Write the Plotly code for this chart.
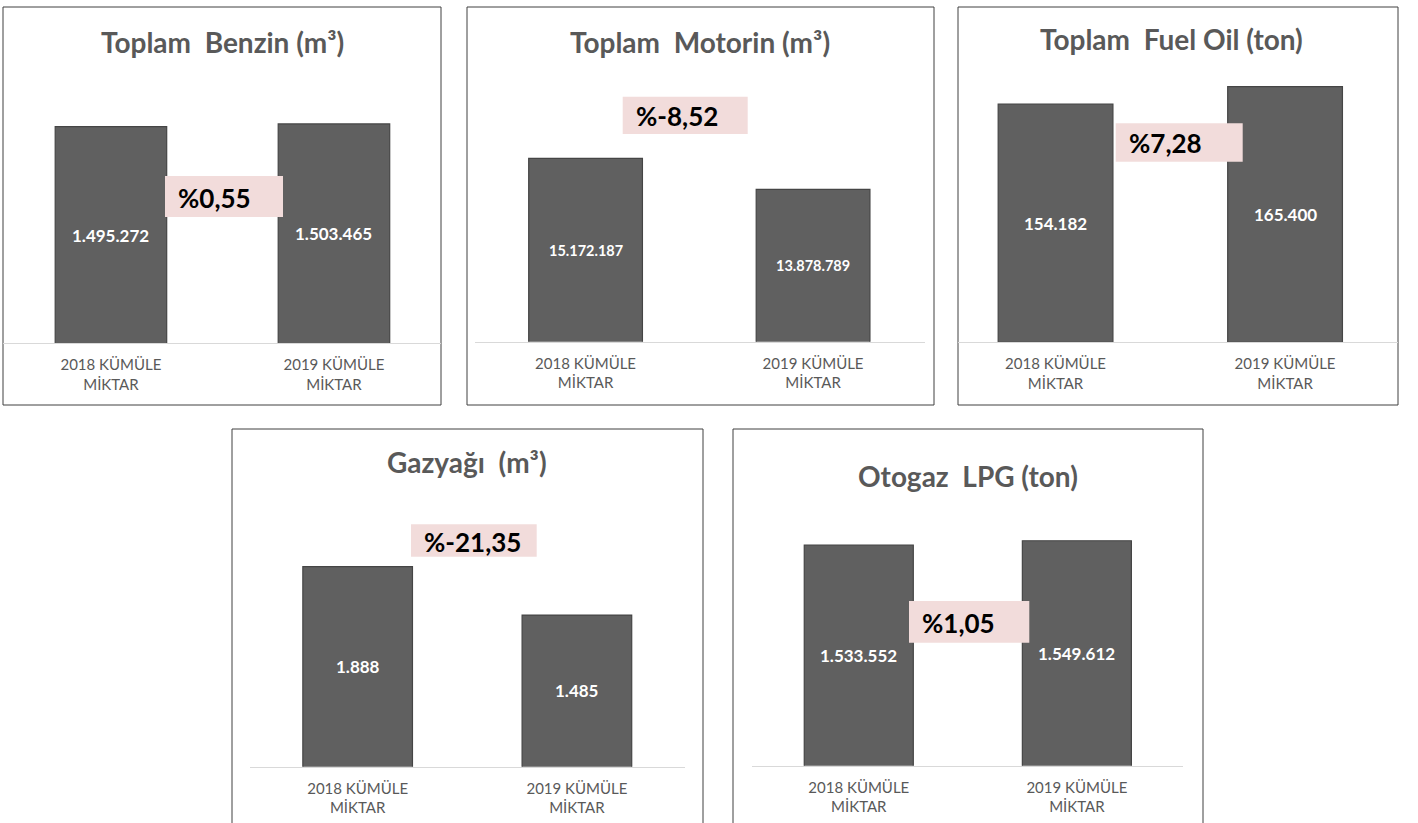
import plotly.graph_objects as go

# ---------------- data ----------------
categories = ["2018 KÜMÜLE MİKTAR", "2019 KÜMÜLE MİKTAR"]
tick_labels = ["2018 KÜMÜLE<br>MİKTAR", "2019 KÜMÜLE<br>MİKTAR"]

titles = [
    "Toplam\u00a0 Benzin (m³)",
    "Toplam\u00a0 Motorin (m³)",
    "Toplam\u00a0 Fuel Oil (ton)",
    "Gazyağı\u00a0 (m³)",
    "Otogaz\u00a0 LPG (ton)",
]
benzin = [1495272, 1503465]
motorin = [15172187, 13878789]
fuel_oil = [154182, 165400]
gazyagi = [1888, 1485]
otogaz_lpg = [1533552, 1549612]
value_labels = [
    ["1.495.272", "1.503.465"],
    ["15.172.187", "13.878.789"],
    ["154.182", "165.400"],
    ["1.888", "1.485"],
    ["1.533.552", "1.549.612"],
]
change_labels = ["%0,55", "%-8,52", "%7,28", "%-21,35", "%1,05"]
series = [benzin, motorin, fuel_oil, gazyagi, otogaz_lpg]

# ---------------- layout (pixels) ----------------
W, H = 1418, 823
def px(x):
    return x / W
def py(y):
    return 1 - y / H

# panel boxes (x0, y0, x1, y1)
boxes = [(3, 7, 441, 405), (467, 7, 934, 405), (958, 7, 1398, 405),
         (232, 429, 703, 830), (733, 429, 1203, 830)]
# axis line extents (x0, x1), baseline y, plot top y
axes_px = [(3, 441, 343.3, 70), (475, 925, 341.7, 70), (958, 1398, 342.3, 70),
           (250, 685, 766.7, 490), (751.7, 1183.3, 765.7, 490)]
x_ranges = [(-0.484, 1.480), (-0.486, 1.492), (-0.425, 1.492),
            (-0.491, 1.493), (-0.491, 1.488)]
y_ranges = [(870000, 1659000), (7500000, 18873000), (0, 176180),
            (220, 2527.8), (700000, 1741280)]
title_pos = [(222, 43), (700, 43), (1171, 40), (467, 463), (968, 477)]
pink_rects = [(165, 176, 283, 217), (622.7, 96.7, 747.7, 134),
              (1115.7, 123.3, 1242.7, 161.7), (411, 524.3, 536.7, 556.7),
              (909, 601, 1029.3, 642.7)]
label_sizes = [17, 14.5, 17, 17, 17]

FONT = "Lato"
GRAY = "#595959"

fig = go.Figure()
shapes = []
annotations = []

for i in range(5):
    n = "" if i == 0 else str(i + 1)
    xa, ya = "x" + n, "y" + n
    fig.add_trace(go.Bar(
        x=categories, y=series[i], xaxis=xa, yaxis=ya,
        width=0.5,
        marker=dict(color="#606060", line=dict(color="#454545", width=1.2)),
        textposition="none", hoverinfo="x+y", showlegend=False,
    ))
    L, R, yb, yt = axes_px[i]
    fig.layout["xaxis" + n] = dict(
        domain=[px(L), px(R)], anchor=ya, type="category",
        range=list(x_ranges[i]), tickvals=categories, ticktext=tick_labels,
        showline=True, linecolor="#d9d9d9", linewidth=1,
        showgrid=False, zeroline=False, ticks="", ticklabelstandoff=8,
        tickfont=dict(family=FONT, size=15, color=GRAY), fixedrange=True,
    )
    fig.layout["yaxis" + n] = dict(
        domain=[py(yb), py(yt)], anchor=xa, range=list(y_ranges[i]),
        visible=False, showgrid=False, zeroline=False, fixedrange=True,
    )
    # value labels centred in the visible part of each bar
    ymin = y_ranges[i][0]
    for c, v, t in zip(categories, series[i], value_labels[i]):
        annotations.append(dict(
            x=c, y=(v + ymin) / 2, xref=xa, yref=ya, text=t, showarrow=False,
            font=dict(family=FONT, size=label_sizes[i], color="white", weight="bold"),
            xanchor="center", yanchor="middle",
        ))
    # panel border
    bx0, by0, bx1, by1 = boxes[i]
    shapes.append(dict(type="rect", xref="paper", yref="paper",
                       x0=px(bx0), x1=px(bx1), y0=py(by1), y1=py(by0),
                       line=dict(color="#404040", width=1), fillcolor="rgba(0,0,0,0)",
                       layer="below"))
    # title
    tx, ty = title_pos[i]
    annotations.append(dict(
        x=px(tx), y=py(ty - 1), xref="paper", yref="paper", text=titles[i],
        showarrow=False, xanchor="center", yanchor="middle",
        font=dict(family=FONT, size=28, color=GRAY, weight="bold"),
    ))
    # change box
    rx0, ry0, rx1, ry1 = pink_rects[i]
    shapes.append(dict(type="rect", xref="paper", yref="paper",
                       x0=px(rx0), x1=px(rx1), y0=py(ry1), y1=py(ry0),
                       line=dict(width=0), fillcolor="#f2dcdb", layer="above"))
    annotations.append(dict(
        x=px(rx0 + 11), y=py((ry0 + ry1) / 2 + 1), xref="paper", yref="paper",
        text=change_labels[i], showarrow=False,
        xanchor="left", yanchor="middle",
        font=dict(family=FONT, size=26, color="black", weight="bold"),
    ))

fig.update_layout(
    width=W, height=H,
    margin=dict(l=0, r=0, t=0, b=0),
    paper_bgcolor="white", plot_bgcolor="rgba(0,0,0,0)",
    shapes=shapes, annotations=annotations,
    bargap=0.5, showlegend=False,
)

fig.write_html("out.html", config={"displayModeBar": False},
               post_script="document.body.style.margin='0';document.body.style.overflow='hidden';")
